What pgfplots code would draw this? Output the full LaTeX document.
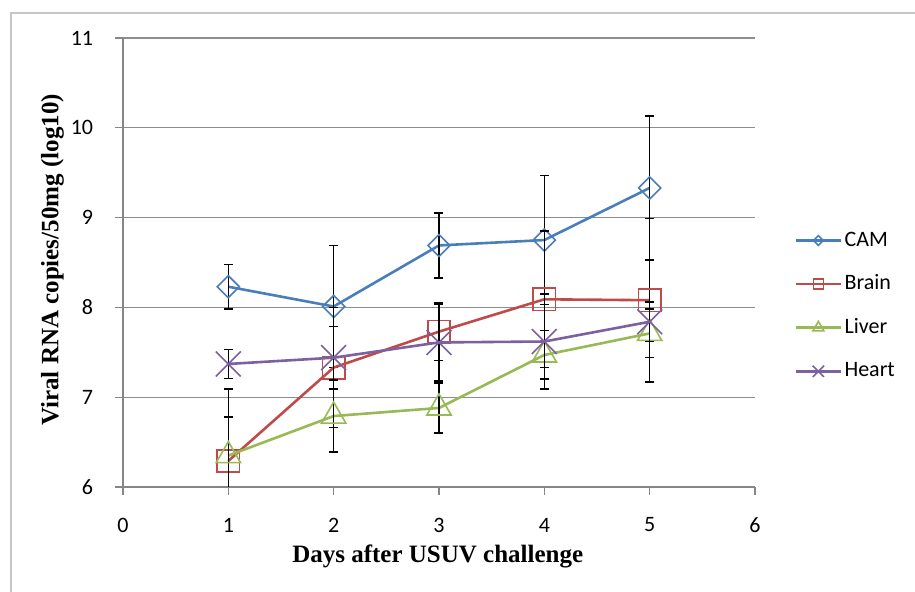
\documentclass[border=0pt]{standalone}
\usepackage{fontspec}
\setmainfont{Carlito}
\newfontfamily\labelfont{Liberation Serif}
\usepackage{pgfplots}
\usepackage{pgfplotstable}
\pgfplotsset{compat=1.18}
\definecolor{camblue}{HTML}{4A7EBB}
\definecolor{brainred}{HTML}{BE4B48}
\definecolor{livergreen}{HTML}{98B954}
\definecolor{heartpurple}{HTML}{7D60A0}
\definecolor{axisgray}{HTML}{868686}
\definecolor{gridgray}{HTML}{8C8C8C}

\pgfplotstableread{
x y e
1 8.23 0.25
2 8.01 0.68
3 8.69 0.36
4 8.75 0.72
5 9.33 0.80
}\camdata
\pgfplotstableread{
x y e
1 6.29 0.80
2 7.33 0.67
3 7.73 0.32
4 8.09 0.76
5 8.08 0.91
}\braindata
\pgfplotstableread{
x y e
1 6.35 0.43
2 6.79 0.40
3 6.88 0.28
4 7.47 0.27
5 7.71 0.27
}\liverdata
\pgfplotstableread{
x y e
1 7.37 0.16
2 7.44 0.35
3 7.61 0.43
4 7.62 0.53
5 7.84 0.22
}\heartdata

\begin{document}
\begin{tikzpicture}
\path[use as bounding box] (0,0) rectangle (457.5pt,296pt);
\draw[color=gray!45, line width=0.75pt] (5.5pt,-2pt) -- (5.5pt,289.5pt) -- (460pt,289.5pt);
\begin{axis}[
  at={(61.5pt,52.5pt)}, anchor=south west,
  scale only axis, width=316pt, height=224.5pt,
  xmin=0, xmax=6, ymin=6, ymax=11,
  xtick={0,1,2,3,4,5,6}, ytick={6,7,8,9,10,11},
  axis x line=bottom, axis y line=left,
  axis line style={-, color=axisgray, line width=0.6pt},
  tick align=outside, major tick length=4pt,
  tick style={color=axisgray, line width=0.6pt},
  ymajorgrids, grid style={color=gridgray, line width=0.6pt},
  clip mode=individual,
  /pgf/number format/assume math mode=true,
  tick label style={font=\fontsize{11}{13}\selectfont},
  xticklabel style={anchor=center, inner sep=0pt, yshift=-15pt},
  yticklabel style={anchor=east, inner sep=0pt, xshift=-10.75pt},
  xlabel={Days after USUV challenge},
  ylabel={Viral RNA copies/50mg (log10)},
  xlabel style={at={(axis description cs:0.498,-0.1537)}, anchor=center, font=\labelfont\bfseries\fontsize{12.5}{15}\selectfont},
  ylabel style={at={(axis description cs:-0.1116,0.5056)}, anchor=center, font=\labelfont\bfseries\fontsize{12.5}{15}\selectfont},
  error bars/error bar style={black, line width=0.75pt, solid},
  error bars/error mark=-,
  error bars/error mark options={rotate=90, black, line width=0.75pt, mark size=2.25pt},
  legend style={at={(1.062,0.4033)}, anchor=west, draw=none, fill=none, inner sep=0pt,
    row sep=8.9pt, column sep=0pt, font=\fontsize{11}{13}\selectfont,
    nodes={inner sep=1.2pt, text height=8pt, text depth=2.5pt}},
  legend cell align=left,
  legend image code/.code={\draw[mark repeat=2,mark phase=2] plot coordinates {(0pt,0pt)(11.25pt,0pt)(22.5pt,0pt)};},
  legend image post style={/tikz/every mark/.append style={scale=0.45}},
]
\addplot[color=camblue, line width=1.3pt, mark=square, mark size=3.9pt,
  mark options={rotate=45, line width=0.8pt, fill=none, solid},
  error bars/.cd, y dir=both, y explicit]
  table[x=x, y=y, y error=e] {\camdata};
\addlegendentry{CAM}
\addplot[color=brainred, line width=1.3pt, mark=square, mark size=5.6pt,
  mark options={line width=0.8pt, fill=none, solid},
  error bars/.cd, y dir=both, y explicit]
  table[x=x, y=y, y error=e] {\braindata};
\addlegendentry{Brain}
\addplot[color=livergreen, line width=1.3pt, mark=triangle, mark size=7pt,
  mark options={line width=0.8pt, fill=none, solid},
  error bars/.cd, y dir=both, y explicit]
  table[x=x, y=y, y error=e] {\liverdata};
\addlegendentry{Liver}
\addplot[color=heartpurple, line width=1.3pt, mark=x, mark size=8.8pt,
  mark options={line width=0.8pt, fill=none, solid},
  error bars/.cd, y dir=both, y explicit]
  table[x=x, y=y, y error=e] {\heartdata};
\addlegendentry{Heart}
\end{axis}
\end{tikzpicture}
\end{document}
